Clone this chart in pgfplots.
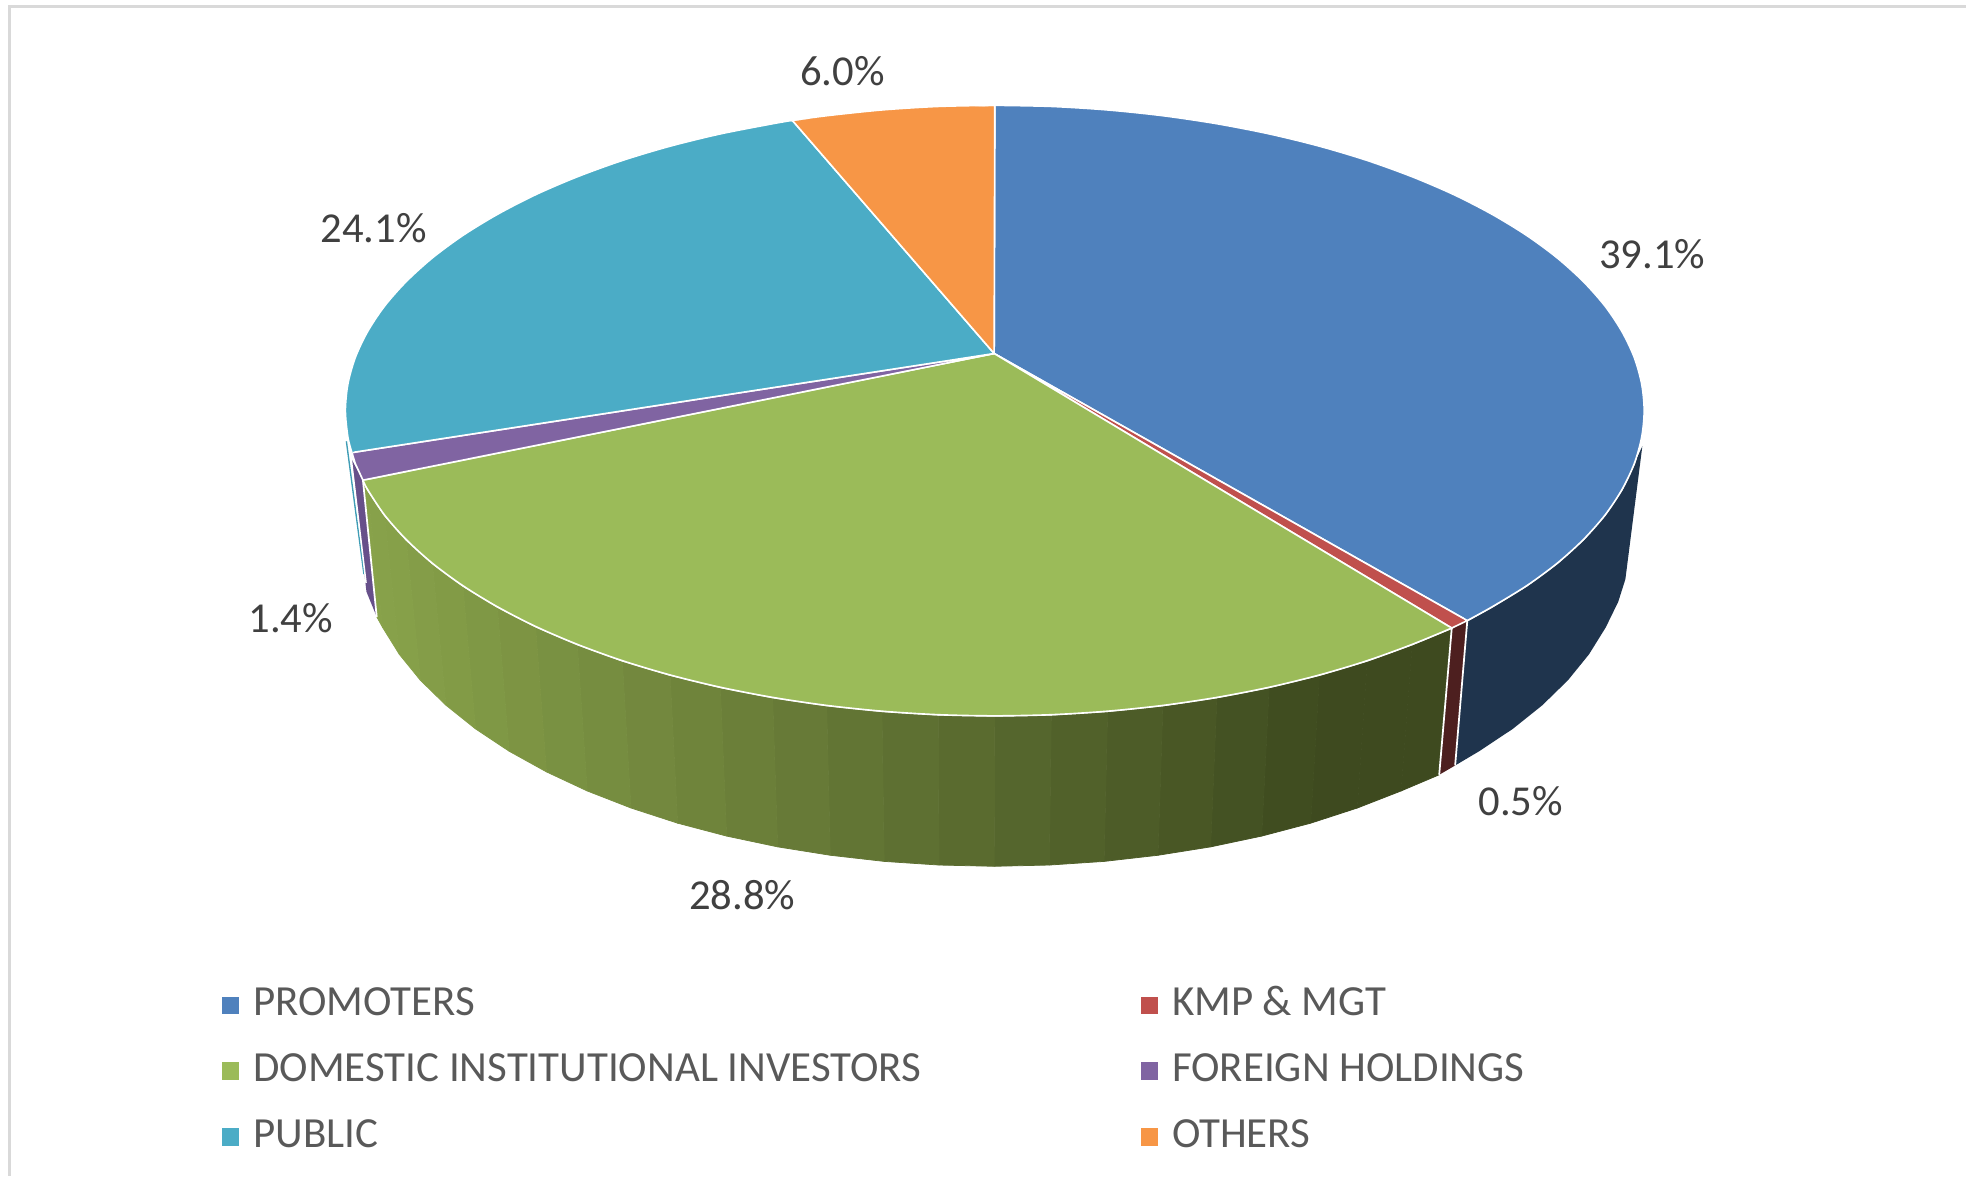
\documentclass[border=0pt]{standalone}
\usepackage{pgfplots}
\pgfplotsset{compat=1.18}
\usepackage{fontspec}
\setmainfont{Carlito}
\definecolor{cblue}{HTML}{4F81BD}
\definecolor{cred}{HTML}{C0504D}
\definecolor{cgreen}{HTML}{9BBB59}
\definecolor{cpurple}{HTML}{8064A2}
\definecolor{cteal}{HTML}{4BACC6}
\definecolor{corange}{HTML}{F79646}
\definecolor{dblue}{HTML}{1F344D}
\definecolor{dred}{HTML}{4D1F1F}
\definecolor{dpurple}{HTML}{67508A}
\definecolor{dteal}{HTML}{3F9DB5}
\definecolor{framec}{HTML}{D9D9D9}
\definecolor{lbl}{HTML}{404040}
\definecolor{leg}{HTML}{595959}
\begin{document}
\begin{tikzpicture}[font=\fontsize{34}{40}\selectfont]
\begin{axis}[
  at={(0,0)}, anchor=south west,
  width=1568pt, height=938pt, scale only axis,
  xmin=0, xmax=1568, ymin=0, ymax=938, y dir=reverse,
  hide axis, clip=false,
  colormap={sidegreen}{rgb255(0cm)=(136,162,74); rgb255(1cm)=(62,74,31)},
  legend columns=2,
  legend cell align=left,
  legend image code/.code={\path[#1,draw=none] (0pt,-7pt) rectangle (14pt,7pt);},
  legend style={at={(axis cs:177,787)}, anchor=north west, draw=none, fill=none,
    inner sep=0pt, outer sep=0pt, text=leg, row sep=22.5pt,
    font=\fontsize{34.25}{40}\selectfont,
    nodes={inner sep=0pt, outer sep=0pt, text height=23pt, text depth=7pt},
    /tikz/every even column/.append style={column sep=175pt},
    /tikz/every odd column/.append style={column sep=11pt}},
]
% frame
\addplot[forget plot, framec, line width=2pt] coordinates {(7.5,938) (7.5,5) (1568,5)};
\path (axis cs:0,0) rectangle (axis cs:1568,938);
% side walls
\addplot[forget plot, fill=dblue, draw=none] coordinates {(1310,356) (1303.6,369.8) (1293.8,390.5) (1280.3,410.8) (1263,430.4) (1242.1,449.3) (1217.8,467.2) (1190.3,484) (1170.4,495) (1160.7,610.6) (1179.9,599.2) (1206.7,581.4) (1230.3,562.5) (1250.7,542.6) (1267.5,521.9) (1280.8,500.5) (1290.8,480) (1296.5,462)} --cycle;
\addplot[forget plot, fill=dred, draw=none] coordinates {(1170.4,495) (1158,501) (1148,618) (1160.7,610.6)} --cycle;
\addplot[forget plot, patch, patch type=rectangle, shader=faceted, faceted color=mapped color, line width=0.6pt, point meta=x, point meta min=300, point meta max=1060, colormap name=sidegreen] coordinates {
(1158,501) (1126.5,514) (1117.6,630.9) (1148,618)
(1126.5,514) (1090.6,527) (1082.7,644.5) (1117.6,630.9)
(1090.6,527) (1052.5,538.4) (1045.5,656.6) (1082.7,644.5)
(1052.5,538.4) (1012.4,548.2) (1006.4,666.9) (1045.5,656.6)
(1012.4,548.2) (970.7,556.3) (965.7,675.5) (1006.4,666.9)
(970.7,556.3) (927.6,562.7) (923.7,682.2) (965.7,675.5)
(927.6,562.7) (883.5,567.3) (880.7,687.1) (923.7,682.2)
(883.5,567.3) (838.6,570.1) (837,690) (880.7,687.1)
(838.6,570.1) (793.5,571) (793,691) (837,690)
(793.5,571) (748.4,570.1) (749,690) (793,691)
(748.4,570.1) (703.5,567.3) (705.3,687.1) (749,690)
(703.5,567.3) (659.4,562.7) (662.3,682.2) (705.3,687.1)
(659.4,562.7) (616.3,556.3) (620.3,675.5) (662.3,682.2)
(616.3,556.3) (574.6,548.2) (579.6,666.9) (620.3,675.5)
(574.6,548.2) (534.5,538.4) (540.5,656.6) (579.6,666.9)
(534.5,538.4) (496.4,527) (503.3,644.5) (540.5,656.6)
(496.4,527) (460.5,514) (468.4,630.9) (503.3,644.5)
(460.5,514) (427.2,499.7) (435.9,615.7) (468.4,630.9)
(427.2,499.7) (396.7,484) (406.1,599.2) (435.9,615.7)
(396.7,484) (369.2,467.2) (379.3,581.4) (406.1,599.2)
(369.2,467.2) (344.9,449.3) (355.7,562.5) (379.3,581.4)
(344.9,449.3) (324,430.4) (335.3,542.6) (355.7,562.5)
(324,430.4) (306.7,410.8) (318.5,521.9) (335.3,542.6)
(306.7,410.8) (293.2,390.5) (305.2,500.5) (318.5,521.9)
(293.2,390.5) (289.5,383) (300.5,492) (305.2,500.5)
};
\addplot[forget plot, fill=dpurple, draw=none] coordinates {(280.3,366) (289.5,383) (300.5,492) (292.3,472)} --cycle;
\addplot[forget plot, dteal, line width=1.1pt] coordinates {(276.3,352) (290.3,458)};
% white seams on the walls
\addplot[forget plot, white, line width=1.4pt] coordinates {(1170.4,495) (1160.7,610.6)};
\addplot[forget plot, white, line width=1.4pt] coordinates {(1158,501) (1148,618)};
\addplot[forget plot, white, line width=1.4pt] coordinates {(289.5,383) (300.5,492)};
\addplot[forget plot, white, line width=1.2pt] coordinates {(278.5,352) (292,465)};
% top face
\addplot[fill=cblue, draw=white, line width=1.3pt, line join=round] coordinates {(793,282) (793.5,84) (838.6,84.9) (883.5,87.7) (927.6,92.3) (970.7,98.7) (1012.4,106.8) (1052.5,116.6) (1090.6,128) (1126.5,141) (1159.8,155.3) (1190.3,171) (1217.8,187.8) (1242.1,205.7) (1263,224.6) (1280.3,244.2) (1293.8,264.5) (1303.6,285.2) (1309.5,306.3) (1311.5,327.5) (1309.5,348.7) (1303.6,369.8) (1293.8,390.5) (1280.3,410.8) (1263,430.4) (1242.1,449.3) (1217.8,467.2) (1190.3,484) (1170.4,495)} --cycle;
\addlegendentry{PROMOTERS}
\addplot[forget plot, smooth, fill=cblue, draw=white, line width=1.3pt] coordinates {(793.5,84) (838.6,84.9) (883.5,87.7) (927.6,92.3) (970.7,98.7) (1012.4,106.8) (1052.5,116.6) (1090.6,128) (1126.5,141) (1159.8,155.3) (1190.3,171) (1217.8,187.8) (1242.1,205.7) (1263,224.6) (1280.3,244.2) (1293.8,264.5) (1303.6,285.2) (1309.5,306.3) (1311.5,327.5) (1309.5,348.7) (1303.6,369.8) (1293.8,390.5) (1280.3,410.8) (1263,430.4) (1242.1,449.3) (1217.8,467.2) (1190.3,484) (1170.4,495)};
\addplot[fill=cred, draw=white, line width=1.3pt, line join=round] coordinates {(793,282) (1170.4,495) (1158,501)} --cycle;
\addlegendentry{KMP \& MGT}
\addplot[fill=cgreen, draw=white, line width=1.3pt, line join=round] coordinates {(793,282) (1158,501) (1126.5,514) (1090.6,527) (1052.5,538.4) (1012.4,548.2) (970.7,556.3) (927.6,562.7) (883.5,567.3) (838.6,570.1) (793.5,571) (748.4,570.1) (703.5,567.3) (659.4,562.7) (616.3,556.3) (574.6,548.2) (534.5,538.4) (496.4,527) (460.5,514) (427.2,499.7) (396.7,484) (369.2,467.2) (344.9,449.3) (324,430.4) (306.7,410.8) (293.2,390.5) (289.5,383)} --cycle;
\addlegendentry{DOMESTIC INSTITUTIONAL INVESTORS}
\addplot[forget plot, smooth, fill=cgreen, draw=white, line width=1.3pt] coordinates {(1158,501) (1126.5,514) (1090.6,527) (1052.5,538.4) (1012.4,548.2) (970.7,556.3) (927.6,562.7) (883.5,567.3) (838.6,570.1) (793.5,571) (748.4,570.1) (703.5,567.3) (659.4,562.7) (616.3,556.3) (574.6,548.2) (534.5,538.4) (496.4,527) (460.5,514) (427.2,499.7) (396.7,484) (369.2,467.2) (344.9,449.3) (324,430.4) (306.7,410.8) (293.2,390.5) (289.5,383)};
\addplot[fill=cpurple, draw=white, line width=1.3pt, line join=round] coordinates {(793,282) (289.5,383) (283.4,369.8) (280.7,361)} --cycle;
\addlegendentry{FOREIGN HOLDINGS}
\addplot[fill=cteal, draw=white, line width=1.3pt, line join=round] coordinates {(793,282) (280.7,361) (277.5,348.7) (275.5,327.5) (277.5,306.3) (283.4,285.2) (293.2,264.5) (306.7,244.2) (324,224.6) (344.9,205.7) (369.2,187.8) (396.7,171) (427.2,155.3) (460.5,141) (496.4,128) (534.5,116.6) (574.6,106.8) (616.3,98.7) (632,96)} --cycle;
\addlegendentry{PUBLIC}
\addplot[forget plot, smooth, fill=cteal, draw=white, line width=1.3pt] coordinates {(280.7,361) (277.5,348.7) (275.5,327.5) (277.5,306.3) (283.4,285.2) (293.2,264.5) (306.7,244.2) (324,224.6) (344.9,205.7) (369.2,187.8) (396.7,171) (427.2,155.3) (460.5,141) (496.4,128) (534.5,116.6) (574.6,106.8) (616.3,98.7) (632,96)};
\addplot[fill=corange, draw=white, line width=1.3pt, line join=round] coordinates {(793,282) (632,96) (659.4,92.3) (703.5,87.7) (748.4,84.9) (793.5,84)} --cycle;
\addlegendentry{OTHERS}
\addplot[forget plot, smooth, fill=corange, draw=white, line width=1.3pt] coordinates {(632,96) (659.4,92.3) (703.5,87.7) (748.4,84.9) (793.5,84)};
% data labels
\node[text=lbl] at (axis cs:1318,203) {39.1\%};
\node[text=lbl] at (axis cs:1213,639) {0.5\%};
\node[text=lbl] at (axis cs:592,714) {28.8\%};
\node[text=lbl] at (axis cs:232,493) {1.4\%};
\node[text=lbl] at (axis cs:298,182) {24.1\%};
\node[text=lbl] at (axis cs:672,57) {6.0\%};
\end{axis}
\end{tikzpicture}
\end{document}
